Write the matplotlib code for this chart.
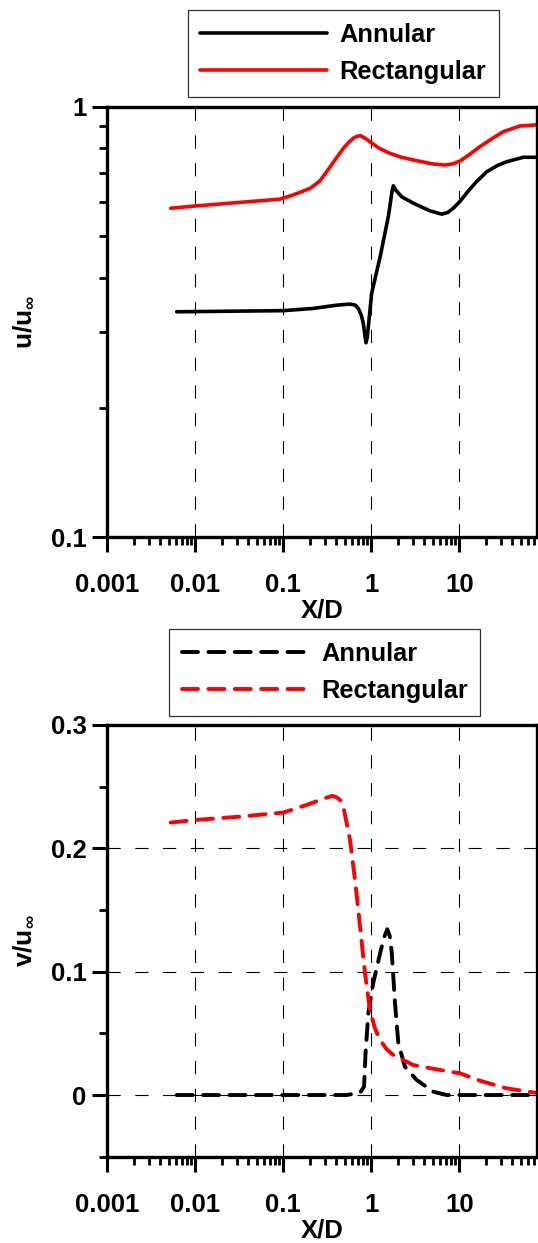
import matplotlib
matplotlib.use("Agg")
import matplotlib.pyplot as plt
from matplotlib.ticker import LogLocator, NullFormatter, FixedLocator, MultipleLocator
import numpy as np

plt.rcParams['font.family'] = ['Liberation Sans', 'DejaVu Sans']
plt.rcParams['font.weight'] = 'bold'
plt.rcParams['mathtext.fontset'] = 'custom'
plt.rcParams['mathtext.rm'] = 'Liberation Sans'
plt.rcParams['mathtext.bf'] = 'Liberation Sans:bold'
plt.rcParams['lines.scale_dashes'] = False

# ---------------- data ----------------
series_names = ["Annular", "Rectangular"]

# top panel: u/u_inf
u_annular_x = [0.00615, 0.1, 0.219, 0.405, 0.573, 0.66, 0.711, 0.77, 0.811, 0.845, 0.871, 0.9, 0.925, 1.01,
               1.26, 1.56, 1.72, 1.78, 1.9, 2.21, 3.0, 4.64, 6.3, 7.4, 8.55, 10.2, 12.1, 15.5, 20.5, 27,
               34.5, 53.4, 80]
u_annular_y = [0.334, 0.336, 0.340, 0.346, 0.348, 0.346, 0.340, 0.328, 0.314, 0.295, 0.283, 0.292, 0.308, 0.369,
               0.448, 0.555, 0.635, 0.655, 0.640, 0.618, 0.597, 0.573, 0.563, 0.568, 0.581, 0.603, 0.630, 0.668,
               0.706, 0.730, 0.745, 0.763, 0.763]

u_rect_x = [0.00525, 0.0099, 0.0918, 0.130, 0.201, 0.26, 0.311, 0.39, 0.481, 0.55, 0.624, 0.69, 0.758, 0.85,
            0.966, 1.2, 1.63, 2.2, 3.0, 5.07, 6.88, 8.5, 10.2, 13, 17.2, 24, 31.6, 49, 80]
u_rect_y = [0.581, 0.588, 0.610, 0.624, 0.646, 0.672, 0.706, 0.754, 0.800, 0.825, 0.845, 0.854, 0.856, 0.845,
            0.829, 0.803, 0.779, 0.763, 0.752, 0.736, 0.732, 0.737, 0.748, 0.774, 0.808, 0.845, 0.875, 0.902, 0.908]

# bottom panel: v/u_inf
v_annular_x = [0.00615, 0.525, 0.745, 0.827, 0.86, 0.925, 1.05, 1.26, 1.4, 1.52, 1.62, 1.71,
               1.86, 2.03, 2.41, 3.28, 5.07, 7.2, 80]
v_annular_y = [0.0, 0.0, 0.0019, 0.0068, 0.0338, 0.0662, 0.0906, 0.115, 0.128, 0.1344, 0.129, 0.115,
               0.0744, 0.042, 0.023, 0.0122, 0.0027, 0.0, 0.0]

v_rect_x = [0.00525, 0.0099, 0.0322, 0.1, 0.1845, 0.311, 0.36, 0.404, 0.445, 0.481, 0.573, 0.653,
            0.745, 0.848, 0.966, 1.1, 1.26, 1.5, 1.78, 3.0, 6.03, 10.2, 17.2, 34.5, 80]
v_rect_y = [0.2209, 0.223, 0.2257, 0.229, 0.2352, 0.2411, 0.2425, 0.2414, 0.239, 0.2338, 0.2068, 0.1744,
            0.1365, 0.0987, 0.0689, 0.054, 0.0446, 0.037, 0.0324, 0.0243, 0.0203, 0.0176, 0.0116, 0.0054, 0.0014]

xtick_vals = [0.001, 0.01, 0.1, 1, 10]
xtick_labels = ["0.001", "0.01", "0.1", "1", "10"]
u_ytick_vals = [0.1, 1]
u_ytick_labels = ["0.1", "1"]
v_ytick_vals = [0, 0.1, 0.2, 0.3]
v_ytick_labels = ["0", "0.1", "0.2", "0.3"]

# ---------------- figure ----------------
W, H = 538, 1243
fig = plt.figure(figsize=(W / 100, H / 100), dpi=100)

def fx(px):
    return px / W

def fy(py):
    return 1 - py / H

left, right = 107.3, 536.7
ax1 = fig.add_axes([fx(left), fy(537.3), fx(right - left), (537.3 - 106.7) / H])
ax2 = fig.add_axes([fx(left), fy(1156.7), fx(right - left), (1156.7 - 725) / H])

LW = 2.6
TICKFS = 18.5
DASH = (0, (11.5, 7.5))
GRID_DASH = (0, (9.5, 10.5))

ax1.plot(u_annular_x, u_annular_y, color='black', lw=LW, label=series_names[0],
         solid_capstyle='round', solid_joinstyle='round')
ax1.plot(u_rect_x, u_rect_y, color='red', lw=LW, label=series_names[1],
         solid_capstyle='round', solid_joinstyle='round')

ax2.plot(v_annular_x, v_annular_y, color='black', lw=LW + 0.2, ls=DASH, label=series_names[0],
         dash_capstyle='round', dash_joinstyle='round')
ax2.plot(v_rect_x, v_rect_y, color='red', lw=LW + 0.2, ls=DASH, label=series_names[1],
         dash_capstyle='round', dash_joinstyle='round')

for ax in (ax1, ax2):
    ax.set_xscale('log')
    ax.set_xlim(0.001, 75.8)
    ax.xaxis.set_major_locator(FixedLocator(xtick_vals))
    ax.set_xticklabels(xtick_labels)
    ax.xaxis.set_minor_locator(LogLocator(base=10, subs=np.arange(2, 10)))
    ax.xaxis.set_minor_formatter(NullFormatter())
    for s in ax.spines.values():
        s.set_linewidth(2.4)
    ax.tick_params(axis='both', which='major', direction='out', length=11, width=2.2,
                   labelsize=TICKFS, top=False, right=False)
    ax.tick_params(axis='both', which='minor', direction='out', length=5.8, width=2.0,
                   top=False, right=False)
    ax.tick_params(axis='x', which='major', pad=15)
    ax.tick_params(axis='y', which='major', pad=4)
    ax.set_xlabel("X/D", fontsize=TICKFS, fontweight='bold', labelpad=1.0)
    ax.grid(True, which='major', axis='x', color='black', lw=0.8, ls=GRID_DASH)

ax1.set_yscale('log')
ax1.set_ylim(0.1, 1)
ax1.yaxis.set_major_locator(FixedLocator(u_ytick_vals))
ax1.set_yticklabels(u_ytick_labels)
ax1.yaxis.set_minor_locator(LogLocator(base=10, subs=np.arange(2, 10)))
ax1.yaxis.set_minor_formatter(NullFormatter())
ax1.set_ylabel(r'$\mathbf{u/u}_{\infty}$', fontsize=19)
ax1.yaxis.set_label_coords(-0.168, 0.5)

ax2.set_ylim(-0.05, 0.3)
ax2.yaxis.set_major_locator(FixedLocator(v_ytick_vals))
ax2.set_yticklabels(v_ytick_labels)
ax2.yaxis.set_minor_locator(MultipleLocator(0.05))
ax2.grid(True, which='major', axis='y', color='black', lw=0.8, ls=GRID_DASH)
ax2.set_ylabel(r'$\mathbf{v/u}_{\infty}$', fontsize=19)
ax2.yaxis.set_label_coords(-0.168, 0.5)

for ax in (ax1, ax2):
    for lab in ax.get_xticklabels() + ax.get_yticklabels():
        lab.set_fontweight('bold')

legkw = dict(loc='upper left', bbox_transform=fig.transFigure,
             frameon=True, fancybox=False, shadow=False, borderaxespad=0,
             handlelength=5.0, handletextpad=0.47, borderpad=0.5, labelspacing=0.52,
             prop={'weight': 'bold', 'size': 18.3})
leg1 = ax1.legend(bbox_to_anchor=(fx(187.7), fy(10.3)), **legkw)
leg2 = ax2.legend(bbox_to_anchor=(fx(169.3), fy(629)), **legkw)
for leg in (leg1, leg2):
    leg.get_frame().set_edgecolor('black')
    leg.get_frame().set_linewidth(0.9)

fig.savefig("out.png", dpi=100)
